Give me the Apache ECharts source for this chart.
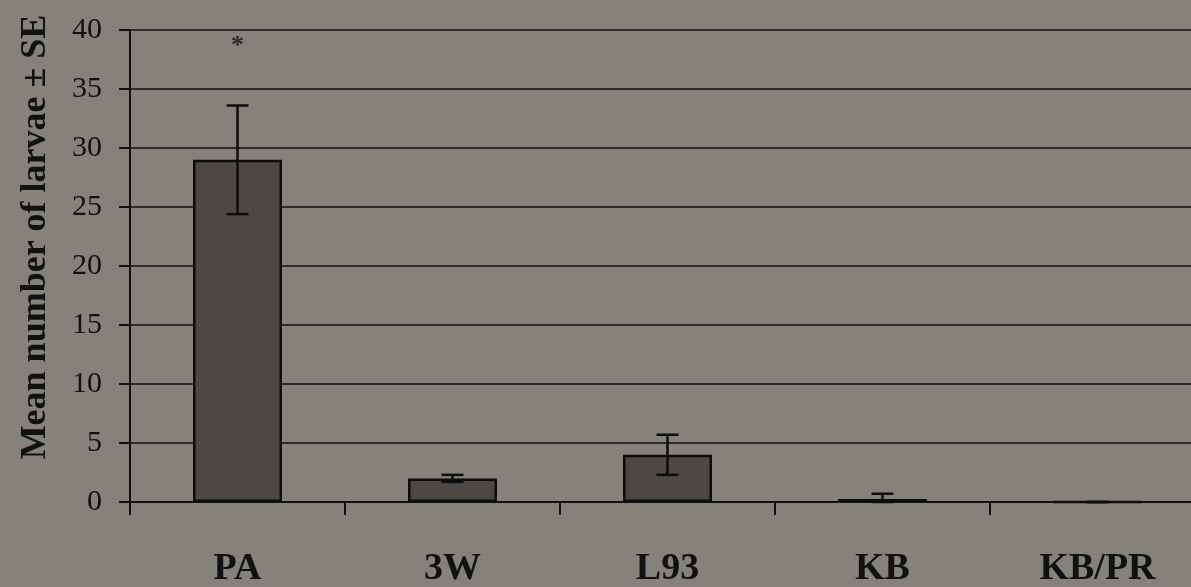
<!DOCTYPE html>
<html>
<head>
<meta charset="utf-8">
<script src="https://cdn.jsdelivr.net/npm/echarts@6/dist/echarts.min.js"></script>
<style>
  html, body { margin: 0; padding: 0; background: #85817b; }
  #chart { width: 1191px; height: 587px; }
</style>
</head>
<body>
<div id="chart"></div>
<script>
// Larval counts per strain: mean and standard error
const categories = ['PA', '3W', 'L93', 'KB', 'KB/PR'];
const meanLarvae = [29.0, 2.0, 4.0, 0.25, 0.0];
const seLarvae = [4.6, 0.3, 1.7, 0.45, 0.0];
// significance marker drawn above the PA bar
const sigMarks = [['PA', 38.6, '*']];
const yTicks = { min: 0, max: 40, interval: 5 };

const serif = '"Liberation Serif", "Times New Roman", Times, serif';
const ink = '#111';

// counts cannot go below zero, so the lower whisker stops at the baseline
const errorData = categories.map((c, i) => [i, Math.max(0, meanLarvae[i] - seLarvae[i]), meanLarvae[i] + seLarvae[i]]);

const chart = echarts.init(document.getElementById('chart'), null, { renderer: 'canvas' });
chart.setOption({
  backgroundColor: '#85817b',
  animation: false,
  grid: { left: 130, top: 30, bottom: 85, width: 1075, containLabel: false, outerBoundsMode: 'none' },
  xAxis: {
    type: 'category',
    data: categories,
    axisLine: { lineStyle: { color: ink, width: 2 } },
    axisTick: { show: true, length: 13, interval: 0, lineStyle: { color: ink, width: 2 } },
    axisLabel: {
      interval: 0, margin: 48,
      fontFamily: serif, fontWeight: 'bold', fontSize: 38, color: ink
    },
    splitLine: { show: false }
  },
  yAxis: {
    type: 'value',
    min: yTicks.min, max: yTicks.max, interval: yTicks.interval,
    name: 'Mean number of larvae \u00b1 SE',
    nameLocation: 'middle',
    nameRotate: 90,
    nameGap: 76,
    nameTextStyle: {
      fontFamily: serif, fontWeight: 'bold', fontSize: 36, color: ink,
      // title sits a little above the axis midpoint
      padding: [0, 0, 0, 58]
    },
    axisLine: { show: true, lineStyle: { color: ink, width: 2 } },
    axisTick: { show: true, length: 11, lineStyle: { color: ink, width: 2 } },
    axisLabel: { margin: 28, fontFamily: serif, fontSize: 30, color: ink },
    splitLine: { show: true, lineStyle: { color: ink, width: 1.5 } }
  },
  series: [
    {
      type: 'bar',
      data: meanLarvae,
      barWidth: 89,
      itemStyle: { color: '#4b4845', borderColor: '#0d0d0d', borderWidth: 2.5 },
      z: 2
    },
    {
      type: 'custom',
      data: errorData,
      z: 5,
      renderItem: function (params, api) {
        const x = api.value(0);
        const lo = api.coord([x, api.value(1)]);
        const hi = api.coord([x, api.value(2)]);
        const half = 11;
        const style = { stroke: '#0d0d0d', lineWidth: 2.5 };
        return {
          type: 'group',
          children: [
            { type: 'line', shape: { x1: hi[0], y1: hi[1], x2: lo[0], y2: lo[1] }, style: style },
            { type: 'line', shape: { x1: hi[0] - half, y1: hi[1], x2: hi[0] + half, y2: hi[1] }, style: style },
            { type: 'line', shape: { x1: lo[0] - half, y1: lo[1], x2: lo[0] + half, y2: lo[1] }, style: style }
          ]
        };
      }
    },
    {
      type: 'scatter',
      data: sigMarks,
      symbolSize: 0,
      z: 6,
      label: {
        show: true,
        position: 'inside',
        formatter: function (p) { return p.data[2]; },
        fontFamily: serif, fontWeight: 'bold', fontSize: 26, color: ink
      }
    }
  ]
});
</script>
</body>
</html>
